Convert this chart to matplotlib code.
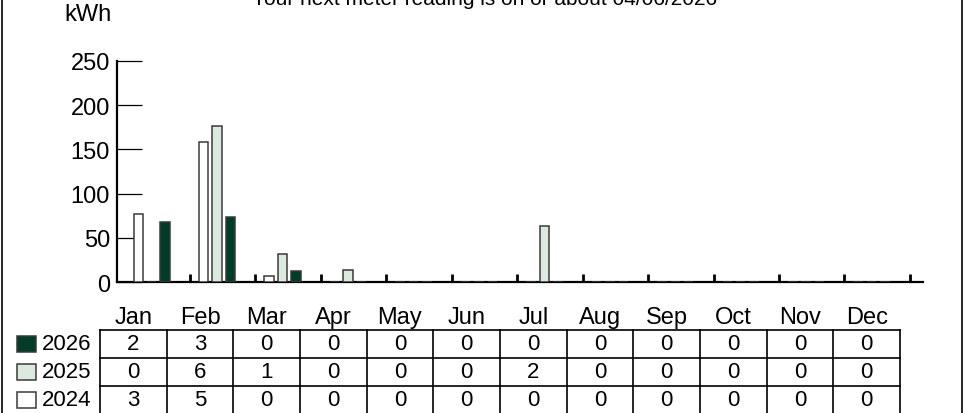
import numpy as np
import matplotlib
matplotlib.use("Agg")
import matplotlib.pyplot as plt
from matplotlib.patches import Rectangle

# Data
months = ['Jan', 'Feb', 'Mar', 'Apr', 'May', 'Jun',
          'Jul', 'Aug', 'Sep', 'Oct', 'Nov', 'Dec']
years = ['2024', '2025', '2026']
kwh_2024 = [77, 158, 7, 0, 0, 0, 0, 0, 0, 0, 0, 0]
kwh_2025 = [0, 177, 32, 14, 0, 0, 63, 0, 0, 0, 0, 0]
kwh_2026 = [68, 73, 12, 0, 0, 0, 0, 0, 0, 0, 0, 0]
table_2026 = [2, 3, 0, 0, 0, 0, 0, 0, 0, 0, 0, 0]
table_2025 = [0, 6, 1, 0, 0, 0, 2, 0, 0, 0, 0, 0]
table_2024 = [3, 5, 0, 0, 0, 0, 0, 0, 0, 0, 0, 0]
title = "Your next meter reading is on or about 04/06/2026"

colors = {'2024': '#ffffff', '2025': '#dbe9df', '2026': '#003d28'}
edge = '#3a3a3a'

plt.rcParams['font.family'] = ['Liberation Sans', 'DejaVu Sans']
narrow = ['Liberation Sans Narrow', 'Liberation Sans', 'DejaVu Sans']

W, H = 968, 414
fig = plt.figure(figsize=(W / 100, H / 100), dpi=100)


def box(x0, y0, x1, y1):
    # pixel box (top-left origin) -> figure fraction
    return [x0 / W, 1 - y1 / H, (x1 - x0) / W, (y1 - y0) / H]


# ---- bar chart ----
ax = fig.add_axes(box(117, 62, 923, 283))
x = np.arange(len(months))
bw = 0.145
series = [('2024', kwh_2024, 0.21), ('2025', kwh_2025, 0.415), ('2026', kwh_2026, 0.62)]
for yr, vals, off in series:
    ax.bar(x + off, vals, width=bw, color=colors[yr], edgecolor=edge,
           linewidth=1.1, zorder=3)

ax.set_xlim(-0.115, 12.2)
ax.set_ylim(0, 250)
ax.set_xticks(np.arange(1, 13))
ax.set_xticklabels([])
ax.tick_params(axis='x', direction='in', length=5.5, width=2, color='black')
ax.set_yticks([0, 50, 100, 150, 200, 250])
ax.tick_params(axis='y', direction='in', length=18, width=0.9, pad=5,
               labelsize=17, color='black')
for s in ['top', 'right']:
    ax.spines[s].set_visible(False)
ax.spines['left'].set_linewidth(1.6)
ax.spines['bottom'].set_linewidth(1.6)
ax.patch.set_alpha(0)

fig.text(88 / W, 1 - 15 / H, 'kWh', ha='center', va='center', fontsize=17)
fig.text(485 / W, 1 - 5 / H, title, ha='center', va='baseline', fontsize=15)

# ---- data table ----
tax = fig.add_axes(box(100, 331, 900, 415))
tax.set_xlim(0, 12)
tax.set_ylim(0, 3)
tax.axis('off')
rows = [('2026', table_2026), ('2025', table_2025), ('2024', table_2024)]
for c in range(13):
    tax.plot([c, c], [0, 3], color='black', lw=1.2, clip_on=False)
for r in range(4):
    tax.plot([0, 12], [r, r], color='black', lw=1.2, clip_on=False)

for c, m in enumerate(months):
    tax.text(c + 0.5, 3.46, m, ha='center', va='center', fontsize=17,
             clip_on=False)

for i, (yr, vals) in enumerate(rows):
    yc = 2.5 - i
    for c, v in enumerate(vals):
        tax.text(c + 0.5, yc, str(v), ha='center', va='center', fontsize=16,
                 family=narrow)
    tax.add_patch(Rectangle((-1.245, yc - 0.285), 0.285, 0.57,
                            facecolor=colors[yr], edgecolor=edge, lw=1.1,
                            clip_on=False))
    tax.text(-0.87, yc, yr, ha='left', va='center', fontsize=16,
             family=narrow, clip_on=False)

# outer frame of the panel
fig.patches.append(Rectangle((2 / W, -0.1), 960 / W, 1.3, transform=fig.transFigure,
                             fill=False, edgecolor='black', lw=1.2))

fig.savefig('out.png', dpi=100)
